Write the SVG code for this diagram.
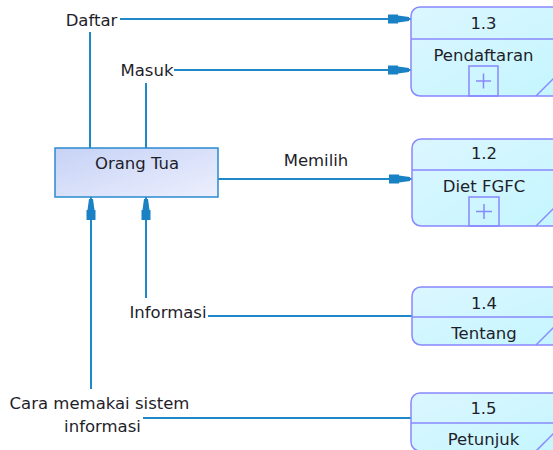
<svg xmlns="http://www.w3.org/2000/svg" width="553" height="450" viewBox="0 0 553 450">
<style>
.t{font-family:"DejaVu Sans",Verdana,sans-serif;font-size:16.5px;fill:#1e1e2a}
.c{text-anchor:middle}
.proc{fill:url(#gp);stroke:#8888ff;stroke-width:1.5}
.div{stroke:#8888ff;stroke-width:1.5;fill:none}
.ln{stroke:#1f88c8;stroke-width:2;fill:none}
</style>
<defs>
<linearGradient id="gp" x1="0" y1="0" x2="1" y2="1">
<stop offset="0" stop-color="#dcf6ff"/>
<stop offset="1" stop-color="#c4f6ff"/>
</linearGradient>
<linearGradient id="ge" x1="0" y1="0" x2="1" y2="1">
<stop offset="0" stop-color="#c6d2f6"/>
<stop offset="1" stop-color="#eceffd"/>
</linearGradient>
<marker id="ar" markerUnits="userSpaceOnUse" markerWidth="26" markerHeight="12" viewBox="-24 -6 26 12" refX="0" refY="0" orient="auto">
<path d="M-23,-4.5 L-13,-4.5 L-13,-3.5 L-2,-2 L-2,2 L-13,3.5 L-13,4.5 L-23,4.5 Z" fill="#1a82c4"/>
</marker>
</defs>
<g id="connectors">
<polyline class="ln" points="90,32 90,148"/>
<polyline class="ln" points="120,19 411,19" marker-end="url(#ar)"/>
<polyline class="ln" points="146,83 146,148"/>
<polyline class="ln" points="174,70 411,70" marker-end="url(#ar)"/>
<polyline class="ln" points="218,179 412,179" marker-end="url(#ar)"/>
<polyline class="ln" points="208,316 412,316"/>
<polyline class="ln" points="146,298 146,197" marker-end="url(#ar)"/>
<polyline class="ln" points="143,418 411,418"/>
<polyline class="ln" points="91,389 91,197" marker-end="url(#ar)"/>
</g>
<g id="orang-tua">
<rect x="55" y="148" width="163" height="49" fill="url(#ge)" stroke="#2a8ad0" stroke-width="1.5"/>
<text class="t c" x="137" y="169">Orang Tua</text>
</g>
<g id="p13">
<rect class="proc" x="411" y="7" width="150" height="89" rx="9"/>
<line class="div" x1="411" y1="39" x2="561" y2="39"/>
<rect class="div" x="469" y="66" width="29" height="30"/>
<path class="div" d="M476,81 H491 M483.5,73.5 V88.5"/>
<line class="div" x1="536" y1="96" x2="558" y2="74"/>
<text class="t c" x="483.5" y="29">1.3</text>
<text class="t c" x="483.5" y="61">Pendaftaran</text>
</g>
<g id="p12">
<rect class="proc" x="412" y="139" width="150" height="87" rx="9"/>
<line class="div" x1="412" y1="170" x2="562" y2="170"/>
<rect class="div" x="469" y="197" width="30" height="29"/>
<path class="div" d="M476,211.5 H492 M484,204 V219"/>
<line class="div" x1="536" y1="226" x2="558" y2="204"/>
<text class="t c" x="484" y="159">1.2</text>
<text class="t c" x="484" y="192">Diet FGFC</text>
</g>
<g id="p14">
<rect class="proc" x="412" y="287" width="150" height="58" rx="9"/>
<line class="div" x1="412" y1="317" x2="562" y2="317"/>
<line class="div" x1="536" y1="345" x2="558" y2="323"/>
<text class="t c" x="484" y="309">1.4</text>
<text class="t c" x="484" y="339">Tentang</text>
</g>
<g id="p15">
<rect class="proc" x="411" y="393" width="150" height="58" rx="9"/>
<line class="div" x1="411" y1="423" x2="561" y2="423"/>
<line class="div" x1="536" y1="451" x2="558" y2="429"/>
<text class="t c" x="483.5" y="414">1.5</text>
<text class="t c" x="483.5" y="445">Petunjuk</text>
</g>
<g id="labels">
<text class="t c" x="91.5" y="26">Daftar</text>
<text class="t c" x="147" y="76">Masuk</text>
<text class="t c" x="316" y="166">Memilih</text>
<text class="t c" x="168" y="318">Informasi</text>
<text class="t c" x="99.5" y="409">Cara memakai sistem</text>
<text class="t c" x="102.5" y="432">informasi</text>
</g>
</svg>
